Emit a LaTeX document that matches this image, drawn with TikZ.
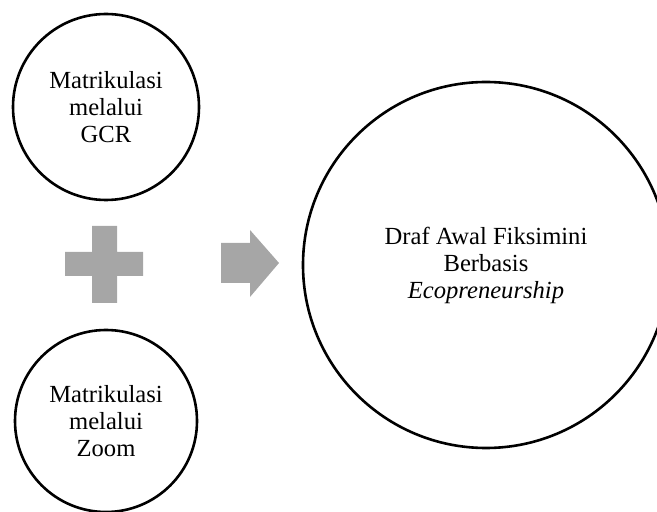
\documentclass[tikz,border=0pt]{standalone}
\usepackage{fontspec}
\setmainfont{Liberation Serif}
\usepackage{tikz}
\usetikzlibrary{arrows.meta,positioning,calc}

\begin{document}
\begin{tikzpicture}[
    x=1pt, y=1pt,
    stage/.style={circle, draw, line width=2.6pt, inner sep=0pt, align=center, font=\fontsize{24.6}{27}\selectfont},
    symb/.style={fill=black!35, draw=none}
]
\useasboundingbox (0,0) rectangle (657,512);

% Input circles
\node[stage, minimum size=186pt] (GCR) at (106,405) {Matrikulasi\\melalui\\GCR};
\node[stage, minimum size=182pt] (ZM) at (106,91) {Matrikulasi\\melalui\\Zoom};

% Result circle
\node[stage, minimum size=366pt] (DR) at (486,247) {Draf Awal Fiksimini\\Berbasis\\\textit{Ecopreneurship}};

% Plus sign
\fill[symb] (92,286) -- (117,286) -- (117,260) -- (143,260) -- (143,236) -- (117,236)
    -- (117,209) -- (92,209) -- (92,236) -- (65,236) -- (65,260) -- (92,260) -- cycle;

% Arrow
\fill[symb] (221,269) -- (250,269) -- (250,282) -- (279,249) -- (250,215) -- (250,229)
    -- (221,229) -- cycle;
\end{tikzpicture}
\end{document}
